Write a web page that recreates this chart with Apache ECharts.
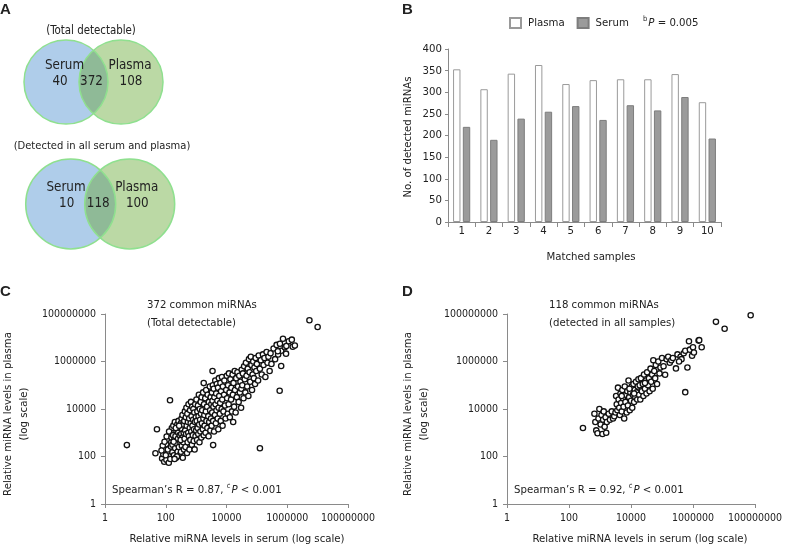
<!DOCTYPE html>
<html><head><meta charset="utf-8">
<script src="https://cdn.jsdelivr.net/npm/echarts@6/dist/echarts.min.js"></script>
<style>html,body{margin:0;padding:0;background:#fff}#c{width:795px;height:553px}</style>
</head><body><div id="c"></div>
<script>
// ---------- data ----------
const vennNames = ['Serum', 'Plasma'];
const venn1Counts = [40, 372, 108];   // serum only, common, plasma only
const venn2Counts = [10, 118, 100];
const venn1Title = '(Total detectable)';
const venn2Title = '(Detected in all serum and plasma)';

const samples = ['1','2','3','4','5','6','7','8','9','10'];
const plasmaCounts = [353, 307, 343, 363, 319, 328, 330, 330, 342, 277];
const serumCounts  = [220, 190, 239, 255, 268, 236, 270, 258, 289, 193];

// log10(serum level), log10(plasma level)
const cPointsLog = [
[1.88,1.92],[1.92,2.1],[1.95,1.78],[1.98,2.28],[2.02,1.86],[2.04,2.5],[2.06,2.12],[2.08,2.72],[2.1,1.74],[2.12,2.35],
[2.14,2.95],[2.16,2.02],[2.18,2.6],[2.2,3.2],[1.9,2.45],[1.96,2.62],[2.0,2.05],[2.03,2.84],[2.07,2.3],[2.11,3.05],
[2.15,1.9],[2.17,2.42],[2.19,2.8],[1.86,2.25],[2.22,2.18],
[2.22,2.5],[2.24,2.9],[2.25,3.3],[2.27,2.05],[2.28,2.7],[2.3,3.45],[2.31,2.35],[2.32,2.85],[2.34,1.95],[2.35,3.1],
[2.36,2.55],[2.38,3.35],[2.39,2.2],[2.4,2.75],[2.41,3.0],[2.42,3.5],[2.43,2.4],[2.45,2.05],[2.46,2.9],[2.47,3.2],
[2.48,2.6],[2.5,3.4],[2.5,2.2],[2.51,2.95],[2.52,3.6],[2.53,2.45],[2.54,3.15],[2.55,2.8],[2.56,1.95],[2.57,3.35],
[2.58,2.6],[2.59,3.0],[2.26,2.62],[2.33,3.2],[2.37,2.0],[2.44,3.3],[2.49,2.7],[2.55,3.75],[2.29,1.9],[2.6,2.3],
[2.61,3.5],[2.62,2.75],[2.63,3.9],[2.64,3.1],[2.65,2.4],[2.66,3.65],[2.67,2.95],[2.68,4.05],[2.69,3.3],[2.7,2.15],
[2.71,3.8],[2.72,2.6],[2.73,3.45],[2.74,3.0],[2.75,4.2],[2.76,2.85],[2.77,3.6],[2.78,2.3],[2.79,3.2],[2.8,3.95],
[2.81,2.7],[2.82,3.4],[2.83,4.3],[2.84,3.05],[2.85,3.7],[2.86,2.5],[2.87,4.1],[2.88,3.3],[2.89,2.9],[2.9,3.55],
[2.91,4.0],[2.92,2.65],[2.93,3.15],[2.94,3.85],[2.95,2.3],[2.96,3.45],[2.97,4.2],[2.98,2.85],[2.99,3.65],[3.0,3.1],
[3.01,4.4],[3.02,3.5],[3.03,2.7],[3.04,3.9],[3.05,3.2],[3.06,4.15],[3.07,2.95],[3.08,3.7],[3.09,4.6],[3.1,3.35],
[3.11,2.6],[3.12,4.0],[3.13,3.55],[3.14,3.05],[3.15,4.3],[3.16,3.8],[3.17,2.8],[3.18,4.5],[3.19,3.4],[3.2,3.95],
[3.22,3.15],[3.23,4.7],[3.24,3.6],[3.25,2.9],[3.26,4.2],[3.27,3.75],[3.28,3.3],[3.3,4.45],[3.31,3.0],[3.32,3.9],
[3.33,4.8],[3.34,3.5],[3.36,4.1],[3.37,3.2],[3.38,4.6],[3.4,3.7],[3.41,2.85],[3.42,4.3],[3.43,3.45],[3.45,4.95],
[3.46,3.95],[3.47,3.1],[3.48,4.5],[3.49,3.6],[3.5,4.2],
[3.51,3.3],[3.52,4.7],[3.53,3.85],[3.54,4.35],[3.55,5.0],[3.56,3.5],[3.57,4.1],[3.58,4.85],[3.59,3.05],[3.6,4.5],
[3.62,3.75],[3.63,5.2],[3.64,4.2],[3.65,3.4],[3.66,4.65],[3.67,3.95],[3.68,5.05],[3.7,4.35],[3.71,3.6],[3.72,4.9],
[3.73,3.15],[3.74,4.05],[3.75,5.3],[3.76,4.55],[3.78,3.8],[3.79,4.25],[3.8,5.1],[3.81,3.5],[3.82,4.75],[3.84,4.0],
[3.85,5.35],[3.86,4.4],[3.87,3.3],[3.88,4.95],[3.9,3.9],[3.92,4.6],[3.93,5.2],[3.95,4.15],[3.97,3.6],[3.99,4.8],
[4.01,5.4],[4.02,4.45],[4.04,3.8],[4.05,5.0],[4.07,4.2],[4.08,5.5],[4.1,4.7],[4.11,3.65],[4.13,5.25],[4.15,4.4],
[4.16,4.9],[4.18,3.9],[4.2,5.45],[4.21,4.6],[4.23,5.1],[4.25,4.1],[4.27,5.6],[4.28,4.8],[4.3,3.85],[4.32,5.3],
[4.34,4.5],[4.36,5.55],[4.38,4.95],[4.4,4.3],[4.42,5.4],[4.44,4.7],[4.46,5.15],[4.48,4.05],[4.5,5.65],[4.49,4.85],
[4.52,5.0],[4.54,5.5],[4.56,4.45],[4.58,5.8],[4.6,5.25],[4.62,4.7],[4.64,5.95],[4.66,5.4],[4.68,4.95],[4.7,5.7],
[4.72,4.55],[4.74,6.1],[4.76,5.55],[4.78,5.15],[4.8,6.2],[4.82,5.85],[4.84,4.8],[4.86,5.45],[4.88,6.0],[4.9,5.3],
[4.92,5.75],[4.94,5.05],[4.96,6.15],[4.98,5.6],[5.0,5.9],
[5.04,5.2],[5.06,6.25],[5.1,5.7],[5.13,6.05],[5.16,5.45],[5.2,6.3],[5.22,5.85],[5.25,6.15],[5.28,5.35],[5.32,6.4],
[5.35,5.95],[5.38,6.2],[5.42,5.6],[5.45,6.35],[5.48,5.9],
[5.55,6.55],[5.6,6.1],[5.65,6.7],[5.7,6.3],[5.76,6.75],[5.8,6.45],[5.86,6.96],[5.92,6.6],[5.97,6.65],[6.05,6.85],
[6.15,6.92],[6.18,6.62],[6.25,6.67],[5.69,6.43],
[7.85,8.03],[6.73,7.74],[7.0,7.45],[5.8,5.81],[5.75,4.77],[5.1,2.35],[3.56,2.48],[3.54,5.6],[3.25,5.09],[2.14,4.37],
[1.71,3.15],[0.72,2.48],[1.66,2.14],[4.22,3.45],[5.96,6.33]
];
const dPointsLog = [
[2.45,3.2],[2.82,3.8],[2.85,3.45],[2.88,3.1],[2.92,2.98],[2.95,3.6],[2.98,4.0],[3.02,3.35],[3.05,3.75],[3.08,2.95],
[3.1,3.55],[3.12,3.9],[3.15,3.25],[3.18,3.65],[3.2,3.0],[3.22,3.45],[3.28,3.8],[3.32,3.55],[3.38,3.9],[3.42,3.6],
[3.46,3.7],[3.5,3.85],
[3.52,4.55],[3.54,4.2],[3.56,3.95],[3.58,4.9],[3.6,4.4],[3.62,4.05],[3.64,3.75],[3.66,4.65],[3.68,4.25],[3.7,3.9],
[3.72,4.8],[3.74,4.45],[3.76,4.1],[3.78,3.6],[3.8,4.95],[3.82,4.3],[3.84,4.6],[3.86,3.85],[3.88,4.75],[3.9,4.15],
[3.92,5.2],[3.94,4.5],[3.96,3.95],[3.98,4.7],[4.0,4.35],[4.02,4.95],[4.04,4.05],[4.06,4.6],[4.08,5.05],[4.1,4.3],
[4.12,4.8],[4.14,4.5],[4.16,5.15],[4.18,4.7],[4.2,4.4],[4.22,4.95],[4.24,5.25],[4.26,4.6],[4.28,5.0],[4.3,4.4],
[4.32,5.3],[4.35,4.75],[4.38,5.05],[4.4,4.55],[4.42,5.45],[4.45,4.85],[4.48,5.2],[4.5,4.65],[4.52,5.55],[4.55,5.0],
[4.58,5.3],[4.6,4.75],[4.63,5.7],[4.65,5.15],[4.68,5.45],[4.7,4.85],[4.72,6.05],[4.75,5.6],[4.78,5.3],[4.8,5.85],
[4.84,5.05],[4.88,6.0],[4.92,5.5],[4.95,5.75],[5.0,6.15],[5.05,5.8],[5.1,5.44],[5.15,6.1],[5.2,6.2],[5.25,5.95],
[5.3,6.05],[5.35,6.15],[5.45,5.71],[5.5,6.3],[5.6,6.2],[5.63,6.1],[5.7,6.35],[5.75,6.45],[5.82,5.75],[5.87,6.85],
[5.9,6.5],[5.97,6.24],[6.0,6.6],[6.03,6.38],[6.18,6.88],[6.2,6.9],[6.28,6.6],[5.75,4.71],
[7.86,7.95],[6.74,7.67],[7.02,7.38],
[3.7,4.55],[4.1,4.65],[4.45,5.1],[3.95,4.85],[5.55,6.0]
];

// ---------- styling ----------
const FONT = "'DejaVu Sans Condensed', 'Liberation Sans', Arial, sans-serif";
const TXT = '#222';
const AX = '#8a8a8a';
const FS = 11.3;
const toLin = pts => pts.map(p => [Math.pow(10, p[0]), Math.pow(10, p[1])]);

const chart = echarts.init(document.getElementById('c'), null, {renderer: 'canvas'});

function logAxis(grid) {
  return {
    type: 'log', logBase: 100, min: 1, max: 100000000, gridIndex: grid,
    axisLine: {show: true, lineStyle: {color: AX, width: 1}},
    axisTick: {show: true, length: 4, lineStyle: {color: AX}},
    splitLine: {show: false},
    axisLabel: {color: TXT, fontSize: 10.5, fontFamily: FONT, margin: 9,
      formatter: v => String(Math.round(v))}
  };
}

const R1 = 42 / 55, R2 = 45 / 59;
function vennSeries(idx, counts, radius, off) {
  return {
    type: 'custom', xAxisIndex: idx, yAxisIndex: idx, silent: true,
    data: [[0, 1, 0]],
    renderItem: function (params, api) {
      const s = api.coord([api.value(0), api.value(2)]);
      const p = api.coord([api.value(1), api.value(2)]);
      const r = api.size([radius, 0])[0];
      const d = p[0] - s[0];
      const a = Math.acos((d / 2) / r);
      const pts = [];
      const N = 40;
      for (let i = 0; i <= N; i++) { const t = -a + 2 * a * i / N; pts.push([s[0] + r * Math.cos(t), s[1] + r * Math.sin(t)]); }
      for (let i = 0; i <= N; i++) { const t = Math.PI - a + 2 * a * i / N; pts.push([p[0] + r * Math.cos(t), p[1] + r * Math.sin(t)]); }
      const mid = (s[0] + p[0]) / 2;
      const ts = (t, x, y) => ({type: 'text', style: {text: t, x: x, y: y, fill: TXT, fontSize: 13.3, fontFamily: FONT, align: 'center', verticalAlign: 'middle'}});
      return {type: 'group', children: [
        {type: 'circle', shape: {cx: s[0], cy: s[1], r: r}, style: {fill: '#afcdea', stroke: null}},
        {type: 'circle', shape: {cx: p[0], cy: p[1], r: r}, style: {fill: '#bbd9a5', stroke: null}},
        {type: 'polygon', shape: {points: pts}, style: {fill: '#8fba97', stroke: null}},
        {type: 'circle', shape: {cx: s[0], cy: s[1], r: r}, style: {fill: 'none', stroke: '#8fe08f', lineWidth: 1.5}},
        {type: 'circle', shape: {cx: p[0], cy: p[1], r: r}, style: {fill: 'none', stroke: '#8fe08f', lineWidth: 1.5}},
        ts(vennNames[0], s[0] + off[0], s[1] - 16.5),
        ts(String(counts[0]), s[0] + off[1], s[1]),
        ts(String(counts[1]), mid - 2, s[1]),
        ts(vennNames[1], p[0] + off[2], p[1] - 16.5),
        ts(String(counts[2]), p[0] + off[3], p[1])
      ]};
    }
  };
}

const hiddenAxis = (grid, min, max) => ({type: 'value', gridIndex: grid, min: min, max: max, show: false});

const txt = (x, y, text, extra) => Object.assign({type: 'text', x: x, y: y,
  style: Object.assign({text: text, fill: TXT, fontSize: FS, fontFamily: FONT, align: 'left', verticalAlign: 'middle'}, extra || {})});
const rotTxt = (x, y, text, extra) => Object.assign({type: 'text', x: x, y: y, rotation: Math.PI / 2,
  style: Object.assign({text: text, fill: TXT, fontSize: FS, fontFamily: FONT, align: 'center', verticalAlign: 'middle', lineHeight: 16}, extra || {})});
const richSP = {s: {fontSize: 7.5, fontFamily: FONT, fill: TXT, padding: [0, 1, 8, 0]}, i: {fontSize: FS, fontStyle: 'italic', fontFamily: FONT, fill: TXT}};
const LETTER = {fontSize: 15, fontWeight: 'bold', fontFamily: 'Arial, sans-serif'};

const option = {
  animation: false,
  backgroundColor: '#fff',
  textStyle: {fontFamily: FONT},
  grid: [
    {left: 448, top: 49, width: 273, height: 173},
    {left: 105, top: 314, width: 243, height: 190},
    {left: 507, top: 314, width: 248, height: 190},
    {left: 11, top: 32, width: 165, height: 100},
    {left: 11.7, top: 154, width: 177, height: 100}
  ],
  legend: {
    left: 509, top: 17, padding: 0, itemWidth: 11, itemHeight: 10, itemGap: 12, icon: 'rect',
    textStyle: {color: TXT, fontSize: 11.3, fontFamily: FONT, padding: [0, 0, 0, 2]},
    data: ['Plasma', 'Serum']
  },
  xAxis: [
    {type: 'category', gridIndex: 0, data: samples,
      axisLine: {lineStyle: {color: AX}}, axisTick: {show: true, length: 5, interval: 0, lineStyle: {color: AX}},
      axisLabel: {color: TXT, fontSize: 11.3, fontFamily: FONT, margin: 4, interval: 0}},
    logAxis(1), logAxis(2),
    hiddenAxis(3, -1, 2), hiddenAxis(4, -1, 2)
  ],
  yAxis: [
    {type: 'value', gridIndex: 0, min: 0, max: 400, interval: 50,
      axisLine: {show: true, lineStyle: {color: AX}}, axisTick: {show: true, length: 3, lineStyle: {color: AX}},
      splitLine: {show: false},
      axisLabel: {color: TXT, fontSize: 11.3, fontFamily: FONT, margin: 6}},
    logAxis(1), logAxis(2),
    hiddenAxis(3, -1, 1), hiddenAxis(4, -1, 1)
  ],
  series: [
    {name: 'Plasma', type: 'bar', xAxisIndex: 0, yAxisIndex: 0, data: plasmaCounts, barWidth: 7.4, barGap: '32%',
      itemStyle: {color: '#ffffff', borderColor: '#9a9a9a', borderWidth: 1}},
    {name: 'Serum', type: 'bar', xAxisIndex: 0, yAxisIndex: 0, data: serumCounts, barWidth: 7.4, barGap: '32%',
      itemStyle: {color: '#9b9b9b', borderColor: '#7d7d7d', borderWidth: 1}},
    {type: 'scatter', xAxisIndex: 1, yAxisIndex: 1, data: toLin(cPointsLog), symbol: 'circle', symbolSize: 5.3,
      itemStyle: {color: '#fff', borderColor: '#111', borderWidth: 1.3, opacity: 1}},
    {type: 'scatter', xAxisIndex: 2, yAxisIndex: 2, data: toLin(dPointsLog), symbol: 'circle', symbolSize: 5.3,
      itemStyle: {color: '#fff', borderColor: '#111', borderWidth: 1.3, opacity: 1}},
    vennSeries(3, venn1Counts, R1, [-1.5, -6, 9, 10]),
    vennSeries(4, venn2Counts, R2, [-4.7, -4, 7, 7.6])
  ],
  graphic: [
    txt(0, 10, 'A', LETTER),
    txt(402, 10, 'B', LETTER),
    txt(0, 292, 'C', LETTER),
    txt(402, 292, 'D', LETTER),
    txt(91, 31, venn1Title, {align: 'center', fontSize: 11.4}),
    txt(102, 146, venn2Title, {align: 'center', fontSize: 11.1}),
    txt(643, 23, '{s|b}{i|P} = 0.005', {rich: richSP}),
    rotTxt(408, 137, 'No. of detected miRNAs'),
    txt(591, 257, 'Matched samples', {align: 'center'}),
    txt(147, 305, '372 common miRNAs'),
    txt(147, 323, '(Total detectable)'),
    txt(112, 490, 'Spearman\u2019s R = 0.87, {s|c}{i|P} < 0.001', {rich: richSP}),
    rotTxt(16, 414, 'Relative miRNA levels in plasma\n(log scale)'),
    txt(237, 539, 'Relative miRNA levels in serum (log scale)', {align: 'center'}),
    txt(549, 305, '118 common miRNAs'),
    txt(549, 323, '(detected in all samples)'),
    txt(514, 490, 'Spearman\u2019s R = 0.92, {s|c}{i|P} < 0.001', {rich: richSP}),
    rotTxt(416, 414, 'Relative miRNA levels in plasma\n(log scale)'),
    txt(640, 539, 'Relative miRNA levels in serum (log scale)', {align: 'center'})
  ]
};
chart.setOption(option);
</script>
</body></html>
